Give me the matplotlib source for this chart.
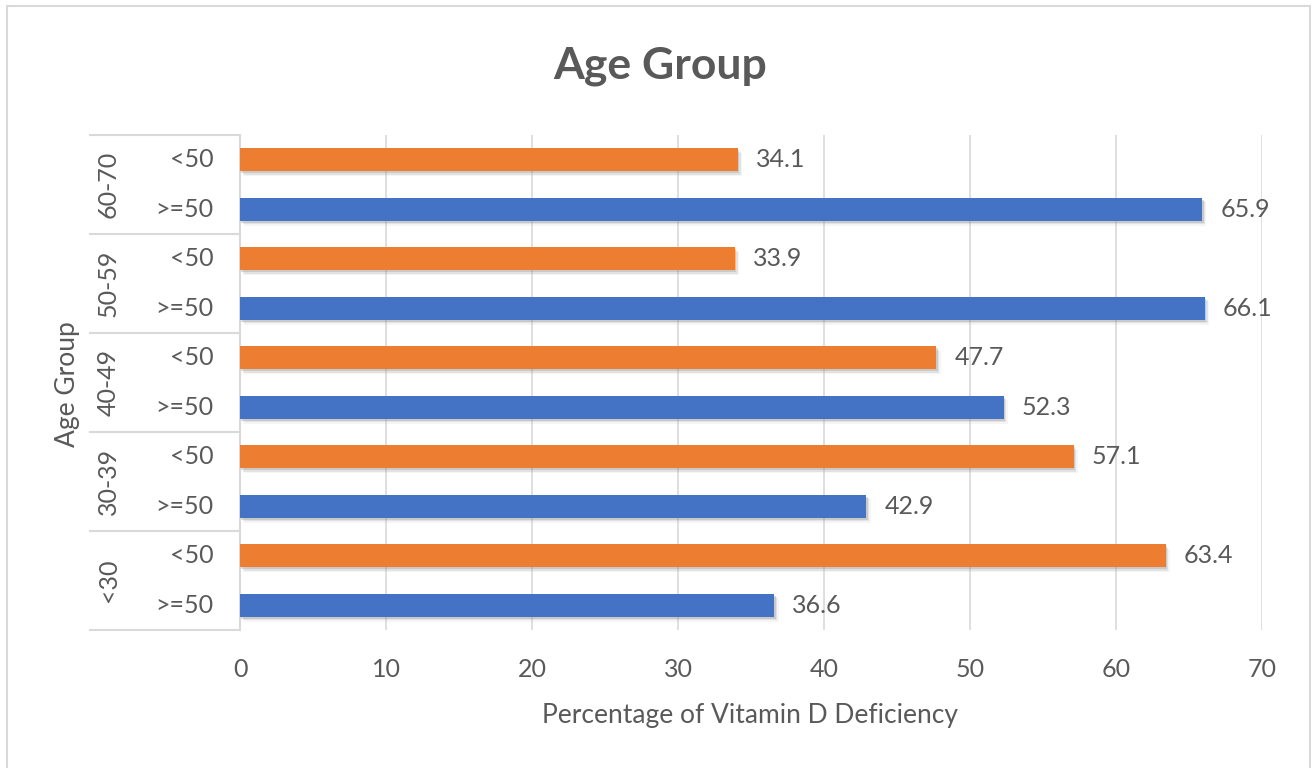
import matplotlib
matplotlib.use("Agg")
import matplotlib.pyplot as plt
from matplotlib import patheffects as pe
from matplotlib.lines import Line2D
from matplotlib.patches import Rectangle

# Data (bottom to top, as drawn)
age_groups = ["<30", "30-39", "40-49", "50-59", "60-70"]
levels = [">=50", "<50"]
pct_ge50 = [36.6, 42.9, 52.3, 66.1, 65.9]
pct_lt50 = [63.4, 57.1, 47.7, 33.9, 34.1]
x_ticks = [0, 10, 20, 30, 40, 50, 60, 70]

BLUE = "#4472C4"
ORANGE = "#ED7D31"
TEXT = "#595959"
GRID = "#D9D9D9"

plt.rcParams["font.family"] = ["Lato", "DejaVu Sans"]

fig = plt.figure(figsize=(13.16, 7.68), dpi=100)
W, H = 1316, 768
ax = fig.add_axes([240 / W, 1 - 630 / H, (1262 - 240) / W, (630 - 135) / H])

# rows: each age group has a >=50 row then a <50 row
values, colors, sub_labels = [], [], []
for ge, lt in zip(pct_ge50, pct_lt50):
    values += [ge, lt]
    colors += [BLUE, ORANGE]
    sub_labels += levels
ypos = list(range(len(values)))

# soft drop shadow under each bar
shadow = [
    pe.SimplePatchShadow(offset=(1.0, -1.5), shadow_rgbFace="#707070", alpha=0.25),
    pe.SimplePatchShadow(offset=(2.0, -2.5), shadow_rgbFace="#909090", alpha=0.18),
    pe.SimplePatchShadow(offset=(3.0, -3.5), shadow_rgbFace="#b0b0b0", alpha=0.12),
    pe.Normal(),
]
bars = ax.barh(ypos, values, height=0.47, color=colors, zorder=3)
for b in bars:
    b.set_path_effects(shadow)

for y, v in zip(ypos, values):
    ax.annotate(f"{v:.1f}", (v, y), xytext=(13, 0), textcoords="offset points",
                ha="left", va="center", fontsize=18, color=TEXT, zorder=4)

ax.set_xlim(0, 70)
ax.set_ylim(-0.5, len(values) - 0.5)
ax.set_xticks(x_ticks)
ax.set_xticklabels([str(t) for t in x_ticks])
ax.tick_params(axis="x", length=0, labelsize=18, labelcolor=TEXT, pad=20)
ax.set_yticks([])
ax.grid(axis="x", color=GRID, linewidth=1.2, zorder=0)
for s in ax.spines.values():
    s.set_visible(False)

# left axis line
ax.add_line(Line2D([0, 0], [0, 1], transform=ax.transAxes, color=GRID,
                   linewidth=1.5, clip_on=False, zorder=2))

# two-level category labels
tr = ax.get_yaxis_transform()
for y, lab in zip(ypos, sub_labels):
    ax.text(-0.026, y, lab, transform=tr, ha="right", va="center",
            fontsize=18, color=TEXT)
for i, g in enumerate(age_groups):
    ax.text(-0.129, 2 * i + 0.5, g, transform=tr, ha="center", va="center",
            rotation=90, fontsize=18, color=TEXT)
for k in range(len(age_groups) + 1):
    yb = 2 * k - 0.5
    ax.add_line(Line2D([-0.147, 0], [yb, yb], transform=tr, color=GRID,
                       linewidth=1.5, clip_on=False))

fig.text(68 / W, 1 - 384 / H, "Age Group", rotation=90, ha="center",
         va="center", fontsize=19, color=TEXT)
fig.text(750 / W, 1 - 715 / H, "Percentage of Vitamin D Deficiency",
         ha="center", va="center", fontsize=19, color=TEXT)
fig.text(660 / W, 1 - 66 / H, "Age Group", ha="center", va="center",
         fontsize=32, fontweight="bold", color=TEXT)

# chart frame
fig.patches.append(Rectangle((7 / W, -0.01), (1310 - 7) / W, 1 - 6 / H + 0.01,
                             transform=fig.transFigure, fill=False,
                             edgecolor="#D9D9D9", linewidth=1.5))

fig.savefig("out.png", dpi=100, facecolor="white")
